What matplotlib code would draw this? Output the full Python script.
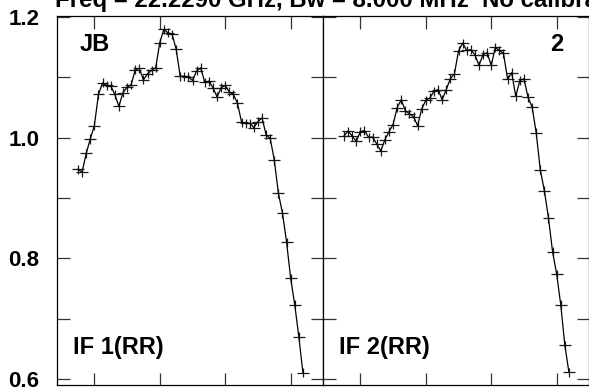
import matplotlib
matplotlib.use("Agg")
import matplotlib.pyplot as plt
import numpy as np

# channel numbers (same for both IFs)
channels = np.arange(1, 57)

# IF 1 (RR) amplitude per channel
if1_rr = [0.948, 0.943, 0.974, 0.998, 1.020, 1.072, 1.091, 1.087, 1.086, 1.072,
          1.052, 1.075, 1.084, 1.088, 1.113, 1.115, 1.096, 1.106, 1.112, 1.116,
          1.158, 1.180, 1.174, 1.172, 1.147, 1.102, 1.102, 1.101, 1.095, 1.111,
          1.116, 1.092, 1.094, 1.083, 1.068, 1.083, 1.087, 1.076, 1.072, 1.057,
          1.026, 1.024, 1.024, 1.017, 1.027, 1.033, 1.005, 0.999, 0.963, 0.908,
          0.875, 0.827, 0.767, 0.723, 0.670, 0.610]

# IF 2 (RR) amplitude per channel
if2_rr = [1.003, 1.011, 1.003, 0.994, 1.010, 1.012, 1.001, 1.001, 0.990, 0.978,
          0.997, 1.010, 1.022, 1.050, 1.063, 1.045, 1.040, 1.035, 1.020, 1.048,
          1.062, 1.066, 1.077, 1.080, 1.063, 1.080, 1.098, 1.106, 1.144, 1.157,
          1.145, 1.146, 1.138, 1.120, 1.138, 1.141, 1.120, 1.150, 1.145, 1.140,
          1.097, 1.108, 1.069, 1.095, 1.098, 1.067, 1.051, 1.008, 0.947, 0.912,
          0.867, 0.811, 0.774, 0.723, 0.656, 0.611]

panels = [("IF 1(RR)", "JB", if1_rr), ("IF 2(RR)", "2", if2_rr)]
yticks_major = [0.6, 0.8, 1.0, 1.2]
yticks_minor = [0.7, 0.9, 1.1]
xticks = [5, 21, 37, 53]
title = "Freq = 22.2290 GHz, Bw = 8.000 MHz  No calibration applied"

plt.rcParams["font.family"] = ["Liberation Sans", "DejaVu Sans"]
plt.rcParams["font.weight"] = "bold"

fig = plt.figure(figsize=(5.89, 3.88), dpi=100)
W, H = 589.0, 388.0
x0, x1, x2 = 57.3, 323.3, 589.3
ytop, ybot = 16.0, 385.0

for k, (iflabel, corner, vals) in enumerate(panels):
    left = (x0 if k == 0 else x1) / W
    width = (x1 - x0) / W
    ax = fig.add_axes([left, (H - ybot) / H, width, (ybot - ytop) / H])
    ax.errorbar(channels, vals, xerr=1.45, yerr=0.0075, fmt="-", color="black",
                lw=0.9, elinewidth=0.9, ecolor="0.1", capsize=0)
    ax.set_xlim(-4.06, 60.98)
    ax.set_ylim(0.590, 1.202)
    ax.set_xticks(xticks)
    ax.set_yticks(yticks_major)
    ax.set_yticks(yticks_minor, minor=True)
    ax.tick_params(which="both", direction="in", length=9, width=0.9,
                   top=True, right=True, color="0.2")
    ax.set_xticklabels([])
    if k == 0:
        ax.set_yticklabels(["0.6", "0.8", "1.0", "1.2"], fontsize=16,
                           fontweight="bold")
        ax.tick_params(axis="y", pad=13)
    else:
        ax.set_yticklabels([])
    for sp in ax.spines.values():
        sp.set_linewidth(0.9)
    ax.text(16.0 / 266, 0.085, iflabel, transform=ax.transAxes, fontsize=17,
            fontweight="bold", ha="left", va="baseline")
    if k == 0:
        ax.text(22.7 / 266, 0.905, corner, transform=ax.transAxes, fontsize=17,
                fontweight="bold", ha="left", va="baseline")
    else:
        ax.text(239.7 / 266, 0.905, corner, transform=ax.transAxes, fontsize=17,
                fontweight="bold", ha="right", va="baseline")

fig.text(55 / W, 1 - 7.5 / H, title, fontsize=17.3, fontweight="bold",
         ha="left", va="baseline")

fig.savefig("out.png", dpi=100)
